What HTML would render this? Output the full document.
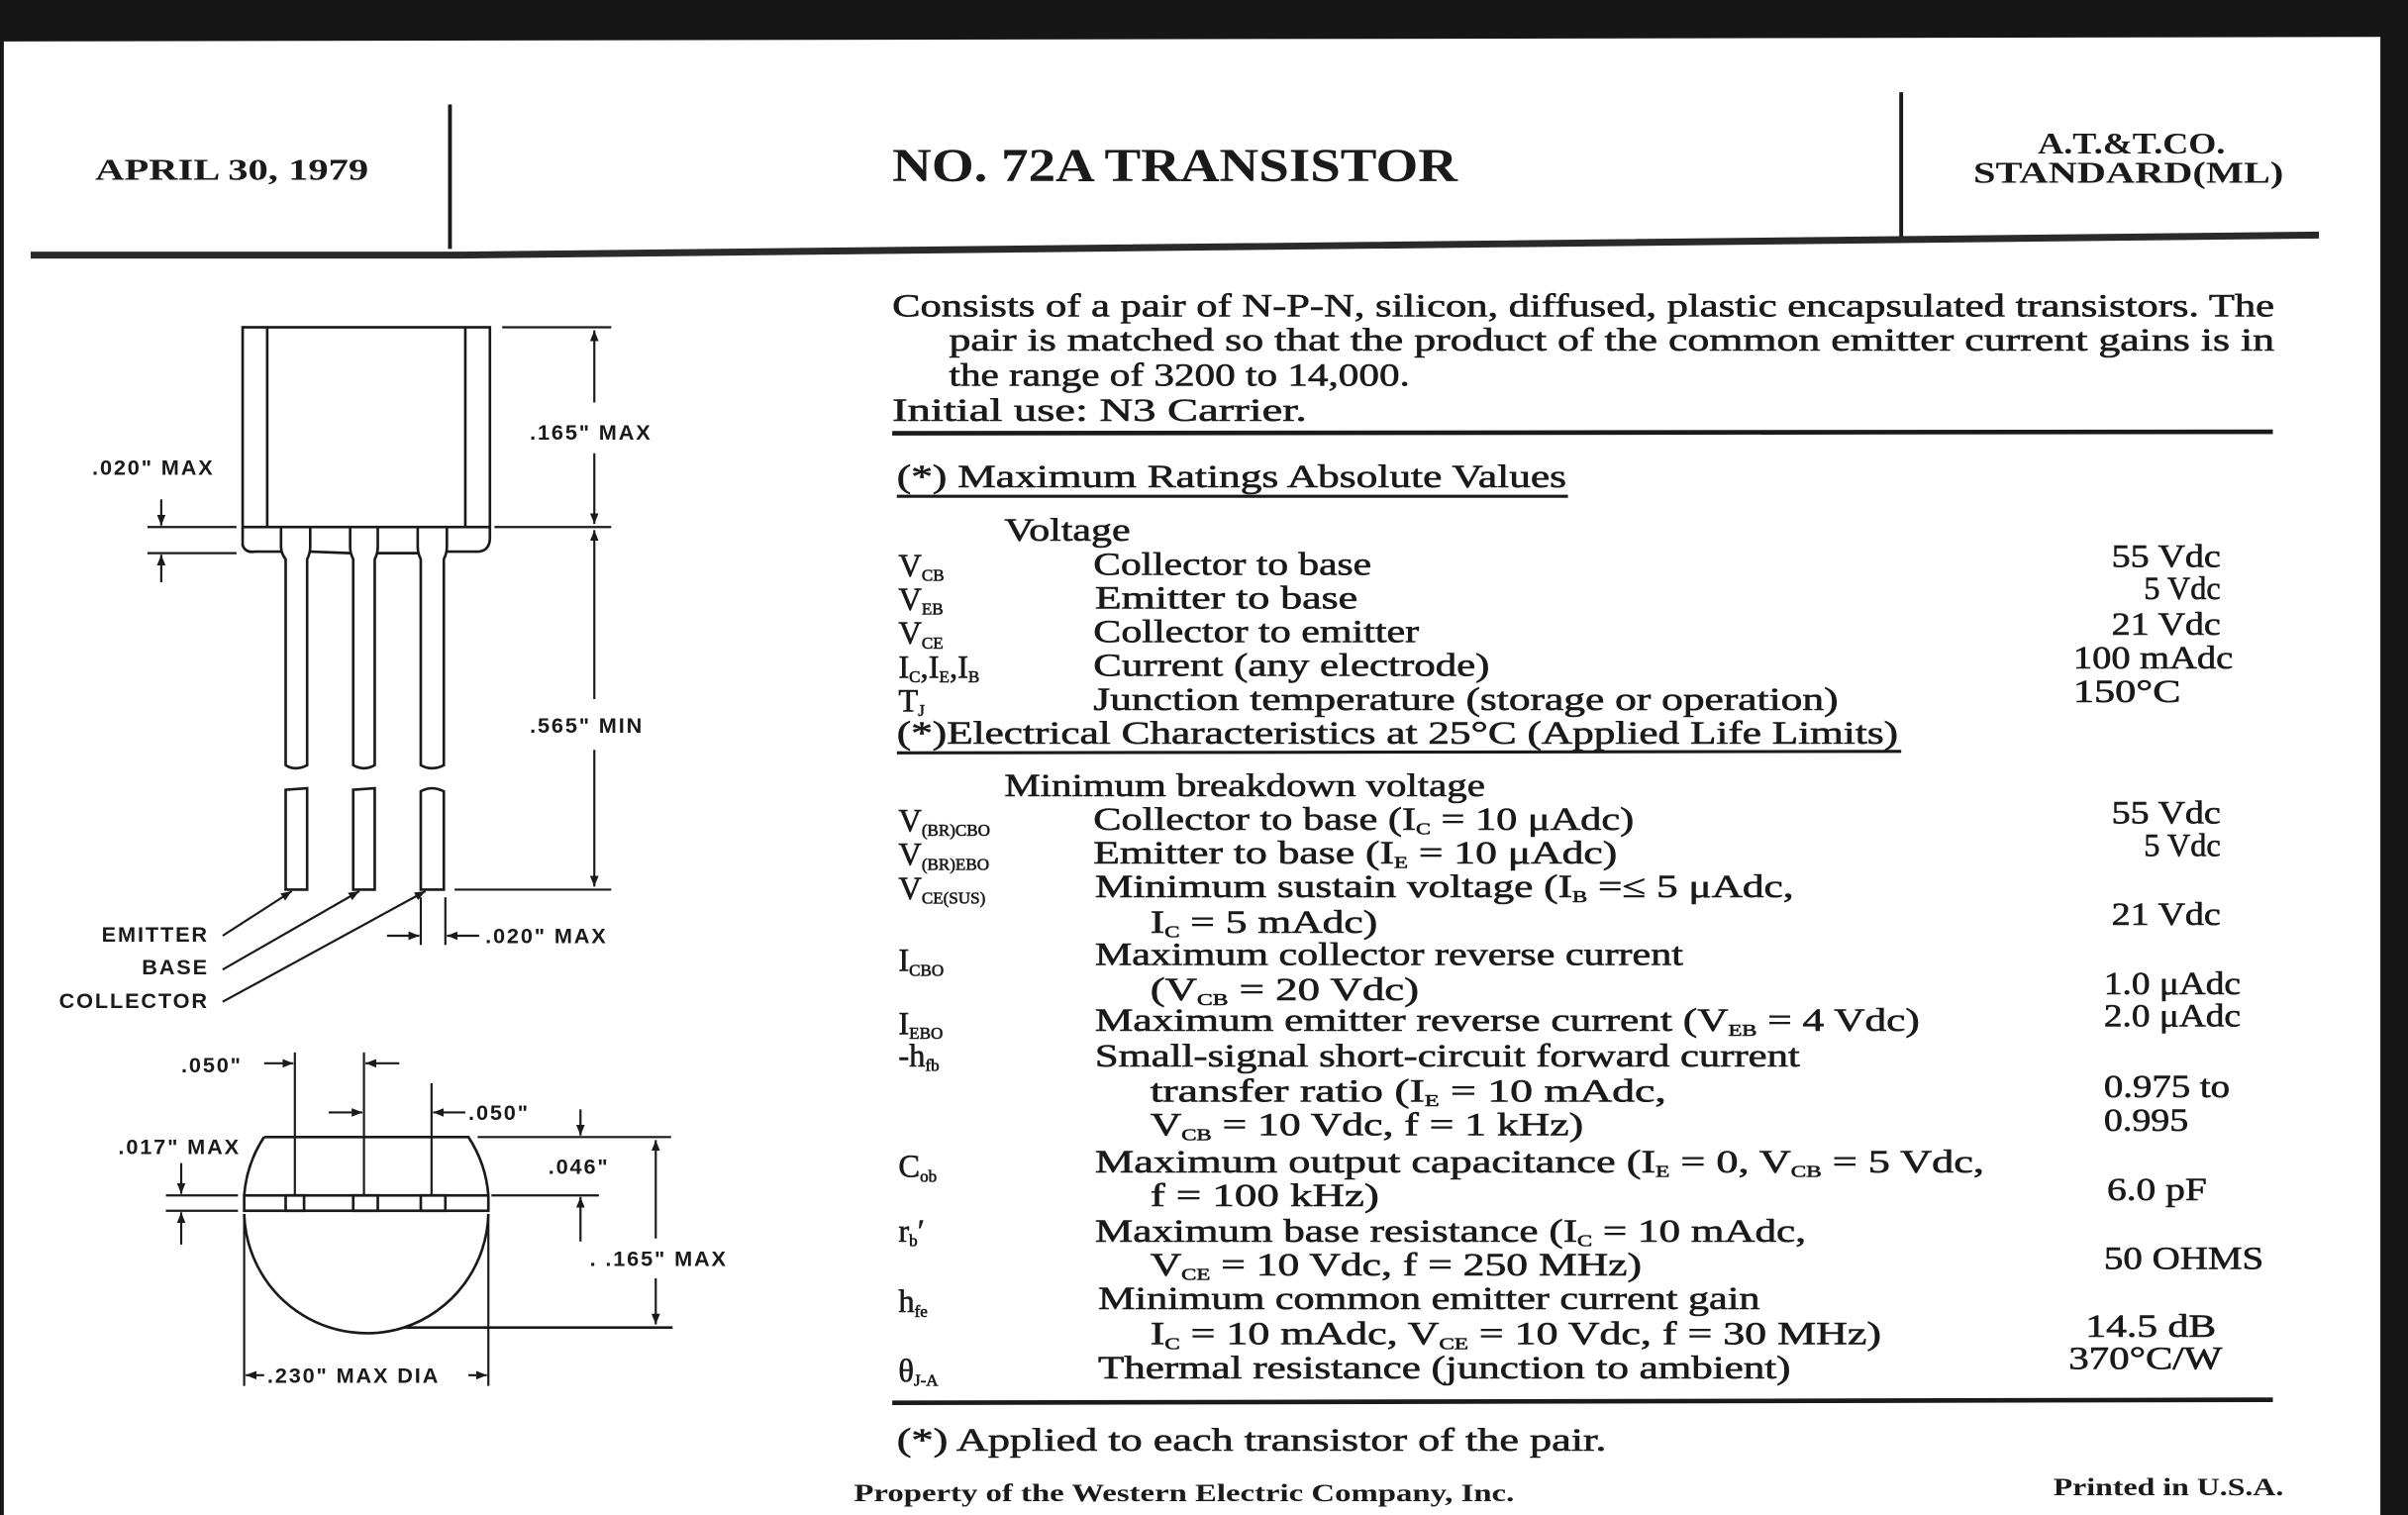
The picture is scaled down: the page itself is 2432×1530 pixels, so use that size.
<!DOCTYPE html>
<html><head><meta charset="utf-8"><style>
html,body{margin:0;padding:0;background:#fff;}
svg{display:block;}
.t{font-family:"Liberation Serif",serif;font-size:21px;fill:#1a1a1a;stroke:#1a1a1a;stroke-width:0.4;}
.h{font-family:"Liberation Serif",serif;font-weight:bold;fill:#1a1a1a;}
.d{font-family:"Liberation Sans",sans-serif;font-weight:bold;font-size:14px;fill:#1a1a1a;letter-spacing:1.2px;}
.s{font-size:11px;}
.ln{stroke:#1a1a1a;stroke-width:1.7;fill:none;}
.dl{stroke:#1a1a1a;stroke-width:1.4;fill:none;}
</style></head><body>
<svg width="2432" height="1530" viewBox="0 0 1568 986" preserveAspectRatio="none" xmlns="http://www.w3.org/2000/svg">
<defs>
<marker id="a" viewBox="0 0 10 10" refX="10" refY="5" markerWidth="7" markerHeight="7" orient="auto-start-reverse" markerUnits="userSpaceOnUse"><path d="M0,1 L10,5 L0,9 z" fill="#1a1a1a"/></marker>
</defs>
<rect width="1568" height="986" fill="#fff"/>
<polygon points="0,0 1568,0 1568,986 1550,986 1550,24 0,27" fill="#161616"/>
<rect x="0" y="0" width="2.5" height="986" fill="#161616"/>

<text class="h" x="62" y="117" font-size="20" textLength="178" lengthAdjust="spacingAndGlyphs">APRIL 30, 1979</text>
<line x1="293" y1="68" x2="293" y2="162" stroke="#1a1a1a" stroke-width="2.5"/>
<text class="h" x="581" y="118" font-size="31" textLength="368" lengthAdjust="spacingAndGlyphs">NO. 72A TRANSISTOR</text>
<line x1="1238" y1="60" x2="1238" y2="155" stroke="#1a1a1a" stroke-width="2.5"/>
<text class="h" x="1327" y="100" font-size="20" textLength="122" lengthAdjust="spacingAndGlyphs">A.T.&amp;T.CO.</text>
<text class="h" x="1285" y="119" font-size="20" textLength="202" lengthAdjust="spacingAndGlyphs">STANDARD(ML)</text>
<polyline points="20,166 300,166 1510,153" fill="none" stroke="#2a2a2a" stroke-width="4.5"/>

<text class="t" x="581" y="206" textLength="900" lengthAdjust="spacingAndGlyphs">Consists of a pair of N-P-N, silicon, diffused, plastic encapsulated transistors. The</text>
<text class="t" x="618" y="228" textLength="863" lengthAdjust="spacingAndGlyphs">pair is matched so that the product of the common emitter current gains is in</text>
<text class="t" x="618" y="251" textLength="300" lengthAdjust="spacingAndGlyphs">the range of 3200 to 14,000.</text>
<text class="t" x="581" y="274" textLength="270" lengthAdjust="spacingAndGlyphs">Initial use:  N3 Carrier.</text>
<line x1="581" y1="282" x2="1480" y2="281" stroke="#1a1a1a" stroke-width="3"/>

<text class="t" x="584" y="317" textLength="436" lengthAdjust="spacingAndGlyphs">(*)  Maximum Ratings Absolute Values</text>
<line x1="584" y1="323" x2="1021" y2="323" stroke="#1a1a1a" stroke-width="2"/>
<text class="t" x="654" y="352" textLength="82" lengthAdjust="spacingAndGlyphs">Voltage</text>

<text class="t" x="585" y="375">V<tspan class="s" dy="3">CB</tspan></text>
<text class="t" x="712" y="374" textLength="181" lengthAdjust="spacingAndGlyphs">Collector to base</text>
<text class="t" x="1375" y="369" textLength="71" lengthAdjust="spacingAndGlyphs">55 Vdc</text>
<text class="t" x="585" y="397">V<tspan class="s" dy="3">EB</tspan></text>
<text class="t" x="713" y="396" textLength="171" lengthAdjust="spacingAndGlyphs">Emitter to base</text>
<text class="t" x="1396" y="390" textLength="50" lengthAdjust="spacingAndGlyphs">5 Vdc</text>
<text class="t" x="585" y="419">V<tspan class="s" dy="3">CE</tspan></text>
<text class="t" x="712" y="418" textLength="212" lengthAdjust="spacingAndGlyphs">Collector to emitter</text>
<text class="t" x="1375" y="413" textLength="71" lengthAdjust="spacingAndGlyphs">21 Vdc</text>
<text class="t" x="585" y="441">I<tspan class="s" dy="3">C</tspan><tspan dy="-3">,I</tspan><tspan class="s" dy="3">E</tspan><tspan dy="-3">,I</tspan><tspan class="s" dy="3">B</tspan></text>
<text class="t" x="712" y="440" textLength="258" lengthAdjust="spacingAndGlyphs">Current (any electrode)</text>
<text class="t" x="1350" y="435" textLength="104" lengthAdjust="spacingAndGlyphs">100 mAdc</text>
<text class="t" x="585" y="463">T<tspan class="s" dy="3">J</tspan></text>
<text class="t" x="712" y="462" textLength="485" lengthAdjust="spacingAndGlyphs">Junction temperature (storage or operation)</text>
<text class="t" x="1350" y="457" textLength="70" lengthAdjust="spacingAndGlyphs">150°C</text>
<text class="t" x="584" y="484" textLength="652" lengthAdjust="spacingAndGlyphs">(*)Electrical Characteristics at 25°C (Applied Life Limits)</text>
<line x1="584" y1="490" x2="1238" y2="489" stroke="#1a1a1a" stroke-width="2"/>

<text class="t" x="654" y="518" textLength="313" lengthAdjust="spacingAndGlyphs">Minimum breakdown voltage</text>
<text class="t" x="585" y="541">V<tspan class="s" dy="3">(BR)CBO</tspan></text>
<text class="t" x="712" y="540" textLength="352" lengthAdjust="spacingAndGlyphs">Collector to base (I<tspan class="s" dy="3">C</tspan><tspan dy="-3"> = 10 μAdc)</tspan></text>
<text class="t" x="1375" y="536" textLength="71" lengthAdjust="spacingAndGlyphs">55 Vdc</text>
<text class="t" x="585" y="563">V<tspan class="s" dy="3">(BR)EBO</tspan></text>
<text class="t" x="712" y="562" textLength="341" lengthAdjust="spacingAndGlyphs">Emitter to base (I<tspan class="s" dy="3">E</tspan><tspan dy="-3"> = 10 μAdc)</tspan></text>
<text class="t" x="1396" y="557" textLength="50" lengthAdjust="spacingAndGlyphs">5 Vdc</text>
<text class="t" x="585" y="585">V<tspan class="s" dy="3">CE(SUS)</tspan></text>
<text class="t" x="713" y="584" textLength="455" lengthAdjust="spacingAndGlyphs">Minimum sustain voltage (I<tspan class="s" dy="3">B</tspan><tspan dy="-3"> =≤ 5 μAdc,</tspan></text>
<text class="t" x="749" y="607" textLength="148" lengthAdjust="spacingAndGlyphs">I<tspan class="s" dy="3">C</tspan><tspan dy="-3"> = 5 mAdc)</tspan></text>
<text class="t" x="1375" y="602" textLength="71" lengthAdjust="spacingAndGlyphs">21 Vdc</text>
<text class="t" x="585" y="632">I<tspan class="s" dy="3">CBO</tspan></text>
<text class="t" x="713" y="628" textLength="383" lengthAdjust="spacingAndGlyphs">Maximum collector reverse current</text>
<text class="t" x="749" y="651" textLength="175" lengthAdjust="spacingAndGlyphs">(V<tspan class="s" dy="3">CB</tspan><tspan dy="-3"> = 20 Vdc)</tspan></text>
<text class="t" x="1370" y="647" textLength="89" lengthAdjust="spacingAndGlyphs">1.0 μAdc</text>
<text class="t" x="585" y="673">I<tspan class="s" dy="3">EBO</tspan></text>
<text class="t" x="713" y="671" textLength="537" lengthAdjust="spacingAndGlyphs">Maximum emitter reverse current (V<tspan class="s" dy="3">EB</tspan><tspan dy="-3"> = 4 Vdc)</tspan></text>
<text class="t" x="1370" y="668" textLength="89" lengthAdjust="spacingAndGlyphs">2.0 μAdc</text>
<text class="t" x="585" y="694">-h<tspan class="s" dy="3">fb</tspan></text>
<text class="t" x="713" y="694" textLength="459" lengthAdjust="spacingAndGlyphs">Small-signal short-circuit forward current</text>
<text class="t" x="749" y="717" textLength="336" lengthAdjust="spacingAndGlyphs">transfer ratio (I<tspan class="s" dy="3">E</tspan><tspan dy="-3"> = 10 mAdc,</tspan></text>
<text class="t" x="749" y="739" textLength="282" lengthAdjust="spacingAndGlyphs">V<tspan class="s" dy="3">CB</tspan><tspan dy="-3"> = 10 Vdc, f = 1 kHz)</tspan></text>
<text class="t" x="1370" y="714" textLength="82" lengthAdjust="spacingAndGlyphs">0.975 to</text>
<text class="t" x="1370" y="736" textLength="55" lengthAdjust="spacingAndGlyphs">0.995</text>
<text class="t" x="585" y="766">C<tspan class="s" dy="3">ob</tspan></text>
<text class="t" x="713" y="763" textLength="579" lengthAdjust="spacingAndGlyphs">Maximum output capacitance (I<tspan class="s" dy="3">E</tspan><tspan dy="-3"> = 0, V</tspan><tspan class="s" dy="3">CB</tspan><tspan dy="-3"> = 5 Vdc,</tspan></text>
<text class="t" x="749" y="785" textLength="149" lengthAdjust="spacingAndGlyphs">f = 100 kHz)</text>
<text class="t" x="1372" y="781" textLength="65" lengthAdjust="spacingAndGlyphs">6.0 pF</text>
<text class="t" x="585" y="808">r<tspan class="s" dy="3">b</tspan><tspan dy="-3">′</tspan></text>
<text class="t" x="713" y="808" textLength="463" lengthAdjust="spacingAndGlyphs">Maximum base resistance (I<tspan class="s" dy="3">C</tspan><tspan dy="-3"> = 10 mAdc,</tspan></text>
<text class="t" x="749" y="830" textLength="320" lengthAdjust="spacingAndGlyphs">V<tspan class="s" dy="3">CE</tspan><tspan dy="-3"> = 10 Vdc, f = 250 MHz)</tspan></text>
<text class="t" x="1370" y="826" textLength="104" lengthAdjust="spacingAndGlyphs">50 OHMS</text>
<text class="t" x="585" y="854">h<tspan class="s" dy="3">fe</tspan></text>
<text class="t" x="715" y="852" textLength="431" lengthAdjust="spacingAndGlyphs">Minimum common emitter current gain</text>
<text class="t" x="749" y="875" textLength="476" lengthAdjust="spacingAndGlyphs">I<tspan class="s" dy="3">C</tspan><tspan dy="-3"> = 10 mAdc, V</tspan><tspan class="s" dy="3">CE</tspan><tspan dy="-3"> = 10 Vdc, f = 30 MHz)</tspan></text>
<text class="t" x="1358" y="870" textLength="85" lengthAdjust="spacingAndGlyphs">14.5 dB</text>
<text class="t" x="585" y="899">θ<tspan class="s" dy="3">J-A</tspan></text>
<text class="t" x="715" y="897" textLength="451" lengthAdjust="spacingAndGlyphs">Thermal resistance (junction to ambient)</text>
<text class="t" x="1347" y="891" textLength="100" lengthAdjust="spacingAndGlyphs">370°C/W</text>
<line x1="581" y1="913" x2="1480" y2="911" stroke="#1a1a1a" stroke-width="3"/>
<text class="t" x="584" y="944" textLength="462" lengthAdjust="spacingAndGlyphs">(*)  Applied to each transistor of the pair.</text>
<text class="h" x="556" y="977" font-size="16" textLength="430" lengthAdjust="spacingAndGlyphs">Property of the Western Electric Company, Inc.</text>
<text class="h" x="1337" y="973" font-size="16" textLength="150" lengthAdjust="spacingAndGlyphs">Printed in U.S.A.</text>

<rect x="158" y="213" width="161" height="130" class="ln"/>
<line x1="174" y1="213" x2="174" y2="343" class="ln"/>
<line x1="303" y1="213" x2="303" y2="343" class="ln"/>
<path d="M158,343 L158,355 Q160,360 166,359 L183,359 M202,359 L228,360 M246,360 L272,360 M291,359 L312,359 Q319,358 319,350 L319,343" class="ln"/>
<path d="M183,343 L183,356 Q183,360 186,364 L186,498 Q192,502 200,498 L200,364 Q202,360 202,356 L202,343" class="ln"/>
<path d="M228,343 L228,356 Q228,360 230,364 L230,498 Q237,502 244,498 L244,364 Q246,360 246,356 L246,343" class="ln"/>
<path d="M272,343 L272,356 Q272,360 274,364 L274,498 Q281,502 289,498 L289,364 Q291,360 291,356 L291,343" class="ln"/>
<path d="M186,579 L186,514 L200,513 L200,579 Z" class="ln"/>
<path d="M230,579 L230,514 L244,513 L244,579 Z" class="ln"/>
<path d="M274,579 L274,515 Q281,511 289,515 L289,579 Z" class="ln"/>
<line x1="327" y1="213" x2="398" y2="213" class="dl"/>
<line x1="322" y1="343" x2="398" y2="343" class="dl"/>
<line x1="296" y1="579" x2="398" y2="579" class="dl"/>
<line x1="387" y1="262" x2="387" y2="215" class="dl" marker-end="url(#a)"/>
<line x1="387" y1="295" x2="387" y2="341" class="dl" marker-end="url(#a)"/>
<line x1="387" y1="455" x2="387" y2="345" class="dl" marker-end="url(#a)"/>
<line x1="387" y1="488" x2="387" y2="577" class="dl" marker-end="url(#a)"/>
<text class="d" x="345" y="286">.165" MAX</text>
<text class="d" x="345" y="477">.565" MIN</text>
<text class="d" x="60" y="309">.020" MAX</text>
<line x1="96" y1="343" x2="154" y2="343" class="dl"/>
<line x1="96" y1="360" x2="154" y2="360" class="dl"/>
<line x1="105" y1="325" x2="105" y2="342" class="dl" marker-end="url(#a)"/>
<line x1="105" y1="379" x2="105" y2="361" class="dl" marker-end="url(#a)"/>
<line x1="145" y1="609" x2="190" y2="580" class="dl" marker-end="url(#a)"/>
<line x1="145" y1="631" x2="234" y2="580" class="dl" marker-end="url(#a)"/>
<line x1="145" y1="652" x2="277" y2="580" class="dl" marker-end="url(#a)"/>
<text class="d" x="136" y="613" text-anchor="end">EMITTER</text>
<text class="d" x="136" y="634" text-anchor="end">BASE</text>
<text class="d" x="136" y="656" text-anchor="end">COLLECTOR</text>
<line x1="274" y1="584" x2="274" y2="615" class="dl"/>
<line x1="290" y1="584" x2="290" y2="615" class="dl"/>
<line x1="252" y1="609" x2="273" y2="609" class="dl" marker-end="url(#a)"/>
<line x1="312" y1="609" x2="291" y2="609" class="dl" marker-end="url(#a)"/>
<text class="d" x="316" y="614">.020" MAX</text>

<path d="M172,740 L305,740 A80,80 0 0 1 318,778" class="ln"/>
<path d="M172,740 A80,80 0 0 0 159,778" class="ln"/>
<rect x="159" y="778" width="159" height="10" class="ln"/>
<path d="M159,790 A80,80 0 0 0 263,864 L438,864 M263,864 A80,80 0 0 0 318,790" class="ln"/>
<rect x="186" y="778" width="12" height="10" class="ln"/>
<rect x="230" y="778" width="16" height="10" class="ln"/>
<rect x="274" y="778" width="16" height="10" class="ln"/>
<line x1="192" y1="685" x2="192" y2="778" class="dl"/>
<line x1="237" y1="685" x2="237" y2="778" class="dl"/>
<line x1="281" y1="705" x2="281" y2="778" class="dl"/>
<text class="d" x="118" y="698">.050"</text>
<line x1="172" y1="692" x2="191" y2="692" class="dl" marker-end="url(#a)"/>
<line x1="260" y1="692" x2="238" y2="692" class="dl" marker-end="url(#a)"/>
<line x1="214" y1="724" x2="236" y2="724" class="dl" marker-end="url(#a)"/>
<line x1="303" y1="724" x2="282" y2="724" class="dl" marker-end="url(#a)"/>
<text class="d" x="305" y="729">.050"</text>
<text class="d" x="77" y="751">.017" MAX</text>
<line x1="108" y1="778" x2="155" y2="778" class="dl"/>
<line x1="108" y1="788" x2="155" y2="788" class="dl"/>
<line x1="118" y1="757" x2="118" y2="777" class="dl" marker-end="url(#a)"/>
<line x1="118" y1="810" x2="118" y2="789" class="dl" marker-end="url(#a)"/>
<line x1="311" y1="740" x2="437" y2="740" class="dl"/>
<line x1="320" y1="778" x2="390" y2="778" class="dl"/>
<line x1="378" y1="722" x2="378" y2="739" class="dl" marker-end="url(#a)"/>
<line x1="378" y1="808" x2="378" y2="779" class="dl" marker-end="url(#a)"/>
<text class="d" x="357" y="764">.046"</text>
<line x1="427" y1="806" x2="427" y2="742" class="dl" marker-end="url(#a)"/>
<line x1="427" y1="832" x2="427" y2="862" class="dl" marker-end="url(#a)"/>
<text class="d" x="384" y="824">. .165" MAX</text>
<line x1="159" y1="792" x2="159" y2="902" class="dl"/>
<line x1="318" y1="792" x2="318" y2="902" class="dl"/>
<line x1="172" y1="895" x2="160" y2="895" class="dl" marker-end="url(#a)"/>
<line x1="305" y1="895" x2="317" y2="895" class="dl" marker-end="url(#a)"/>
<text class="d" x="174" y="900">.230" MAX DIA</text>
</svg>
</body></html>
